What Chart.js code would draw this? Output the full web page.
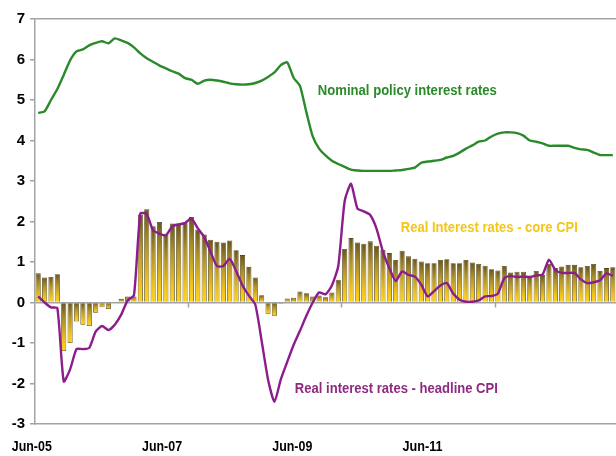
<!doctype html>
<html>
<head>
    <meta charset="UTF-8"/>
    <title>Policy and real interest rates</title>
    <style type="text/css">
        body {
            margin: 0;
            padding: 0;
            background-color: #fff;
        }
        .chartBox {
            width: 616px;
            height: 456px;
        }
    </style>
</head>
<body>
    <div class="chartBox">
        <canvas id="myChart" width="616" height="456"></canvas>
    </div>

    <script src="https://cdn.jsdelivr.net/npm/chart.js"></script>

    <script>
        // Monthly series, Jun-05 onwards (91 months)
        const coreReal = [
            0.72, 0.62, 0.63, 0.70, -1.20, -1.00, -0.47, -0.55, -0.58, -0.25, -0.12, -0.16, 0.00, 0.09, 0.15, 0.15,
            2.17, 2.30, 1.88, 1.99, 1.70, 1.95, 1.94, 1.98, 2.11, 1.80, 1.68, 1.55, 1.50, 1.48, 1.53, 1.29, 1.17, 0.88, 0.62, 0.18,
            -0.28, -0.33, -0.03, 0.10, 0.12, 0.27, 0.23, 0.15, 0.17, 0.13, 0.25, 0.56, 1.32, 1.59, 1.48, 1.45, 1.51, 1.40,
            1.30, 1.22, 1.05, 1.28, 1.14, 1.08, 1.01, 0.97, 0.97, 1.05, 1.07, 0.97, 0.97, 1.05, 0.99, 0.95, 0.91, 0.82,
            0.79, 0.90, 0.74, 0.76, 0.76, 0.66, 0.78, 0.68, 0.95, 0.85, 0.89, 0.93, 0.93, 0.87, 0.90, 0.95, 0.78, 0.85, 0.87
        ];
        const headlineReal = [
            0.15, 0.00, -0.12, -0.14, -1.95, -1.65, -1.15, -1.15, -1.12, -0.72, -0.58, -0.68, -0.55, -0.30, 0.05, 0.18, 2.20, 2.18,
            1.78, 1.70, 1.66, 1.88, 1.93, 1.96, 2.08, 1.83, 1.62, 1.25, 0.90, 0.90, 1.08, 0.78, 0.42, 0.17, -0.05,
            -0.95, -1.90, -2.45, -1.90, -1.47, -1.05, -0.70, -0.33, 0.00, 0.25, 0.20, 0.42, 0.90, 2.50, 2.93, 2.32, 2.25, 2.16, 1.82,
            1.25, 0.85, 0.53, 0.77, 0.68, 0.64, 0.44, 0.15, 0.28, 0.42, 0.48, 0.22, 0.07, 0.02, 0.02, 0.05, 0.15, 0.16,
            0.22, 0.60, 0.65, 0.63, 0.64, 0.63, 0.67, 0.69, 1.06, 0.80, 0.73, 0.73, 0.73, 0.57, 0.48, 0.50, 0.55, 0.72, 0.66
        ];
        const nominalRate = [
            4.68, 4.72, 5.00, 5.27, 5.62, 5.98, 6.20, 6.25, 6.35, 6.41, 6.45, 6.40, 6.52, 6.47, 6.41, 6.30,
            6.15, 6.03, 5.94, 5.85, 5.78, 5.71, 5.65, 5.54, 5.50, 5.40, 5.48, 5.50, 5.48, 5.45, 5.41, 5.39, 5.38, 5.39, 5.42, 5.48, 5.57, 5.68,
            5.86, 5.93, 5.55, 5.35, 4.70, 4.10, 3.80, 3.63,
            3.50, 3.42, 3.35, 3.28, 3.26, 3.25, 3.25, 3.25, 3.25, 3.25, 3.26, 3.27, 3.30, 3.33, 3.45, 3.48, 3.50, 3.52, 3.58, 3.62,
            3.70, 3.80, 3.88, 3.97, 4.00, 4.10, 4.17, 4.20, 4.20, 4.18, 4.12, 4.00, 3.97, 3.93, 3.87, 3.87, 3.87, 3.87, 3.82, 3.78,
            3.77, 3.70, 3.64, 3.64, 3.64
        ];
        const dateLabels = ['Jun-05', 'Jun-07', 'Jun-09', 'Jun-11'];
        const seriesNames = ['Nominal policy interest rates', 'Real Interest rates - core CPI', 'Real interest rates - headline CPI'];

        // one category per month
        const monthNames = ['Jan', 'Feb', 'Mar', 'Apr', 'May', 'Jun', 'Jul', 'Aug', 'Sep', 'Oct', 'Nov', 'Dec'];
        const months = coreReal.map((v, i) => {
            const m = 5 + i;
            return monthNames[m % 12] + '-' + String(5 + Math.floor(m / 12)).padStart(2, '0');
        });

        const axisGrey = '#a3a3a3';
        const font = "'Liberation Sans', Arial, sans-serif";

        // vertical dark-to-gold fill on each bar
        function barFill(c) {
            const chart = c.chart;
            if (!chart.chartArea || c.type !== 'data') return '#b8962a';
            const y = chart.scales.y;
            const p0 = y.getPixelForValue(0);
            const p1 = y.getPixelForValue(c.raw);
            const top = Math.min(p0, p1), bot = Math.max(p0, p1);
            if (bot - top < 2) return '#9a8026';
            const g = chart.ctx.createLinearGradient(0, top, 0, bot);
            g.addColorStop(0, '#66551f');
            g.addColorStop(0.35, '#ad902c');
            g.addColorStop(0.8, '#f2c41a');
            g.addColorStop(1, '#ffd21c');
            return g;
        }

        // text labels, date labels and the small ticks on the zero line
        const annotations = {
            id: 'annotations',
            afterDraw(chart) {
                const {ctx, scales: {x, y}} = chart;
                const step = x.width / months.length;
                const xAt = idx => x.left + idx * step;

                ctx.save();
                ctx.strokeStyle = axisGrey;
                ctx.lineWidth = 1.5;
                const y0 = y.getPixelForValue(0);
                for (let k = 24; k < months.length; k += 24) {
                    ctx.beginPath();
                    ctx.moveTo(Math.round(xAt(k)) + 0.5, y0);
                    ctx.lineTo(Math.round(xAt(k)) + 0.5, y0 + 5);
                    ctx.stroke();
                }

                ctx.font = 'bold 14px ' + font;
                ctx.fillStyle = '#000';
                ctx.textAlign = 'center';
                ctx.textBaseline = 'middle';
                dateLabels.forEach((lbl, i) => {
                    ctx.fillText(lbl, xAt(-0.5 + i * 20.4), chart.height - 9, 40);
                });

                ctx.textAlign = 'left';
                ctx.font = 'bold 14px ' + font;
                ctx.fillStyle = '#2a8a2a';
                ctx.fillText(seriesNames[0], xAt(44.3), y.getPixelForValue(5.21), 179);
                ctx.fillStyle = '#f5c518';
                ctx.fillText(seriesNames[1], xAt(57.3), y.getPixelForValue(1.84), 177);
                ctx.fillStyle = '#8e2a80';
                ctx.fillText(seriesNames[2], xAt(40.7), y.getPixelForValue(-2.14), 203);
                ctx.restore();
            }
        };

        const data = {
            labels: months,
            datasets: [
                {
                    type: 'line',
                    label: seriesNames[0],
                    data: nominalRate,
                    borderColor: '#2a8a2a',
                    borderWidth: 2.4,
                    pointRadius: 0,
                    tension: 0.2,
                    order: 1
                },
                {
                    type: 'line',
                    label: seriesNames[2],
                    data: headlineReal,
                    borderColor: '#8c1d8c',
                    borderWidth: 2.4,
                    pointRadius: 0,
                    tension: 0.2,
                    order: 2
                },
                {
                    type: 'bar',
                    label: seriesNames[1],
                    data: coreReal,
                    backgroundColor: barFill,
                    borderColor: '#5a4a16',
                    borderWidth: 0.8,
                    barPercentage: 0.8,
                    categoryPercentage: 1.0,
                    order: 3
                }
            ]
        };

        const config = {
            type: 'bar',
            data: data,
            plugins: [annotations],
            options: {
                responsive: false,
                animation: false,
                layout: {
                    padding: { top: 19, right: 0, bottom: 0, left: 0 }
                },
                plugins: {
                    legend: { display: false },
                    tooltip: { enabled: false }
                },
                scales: {
                    x: {
                        type: 'category',
                        offset: true,
                        grid: { display: false },
                        ticks: { display: false },
                        border: { color: axisGrey, width: 1.5 },
                        afterFit: s => { s.height = 32; }
                    },
                    y: {
                        min: -3,
                        max: 7,
                        ticks: {
                            stepSize: 1,
                            color: '#000',
                            padding: 5,
                            font: { family: font, weight: 'bold', size: 15 }
                        },
                        grid: {
                            color: c => (c.tick && (c.tick.value === 7 || c.tick.value === 0)) ? axisGrey : 'rgba(0,0,0,0)',
                            tickColor: axisGrey,
                            tickLength: 5,
                            lineWidth: 1.5
                        },
                        border: { color: axisGrey, width: 1.5 },
                        afterFit: s => { s.width = 35; }
                    }
                }
            }
        };

        const myChart = new Chart(document.getElementById('myChart'), config);
    </script>
</body>
</html>
